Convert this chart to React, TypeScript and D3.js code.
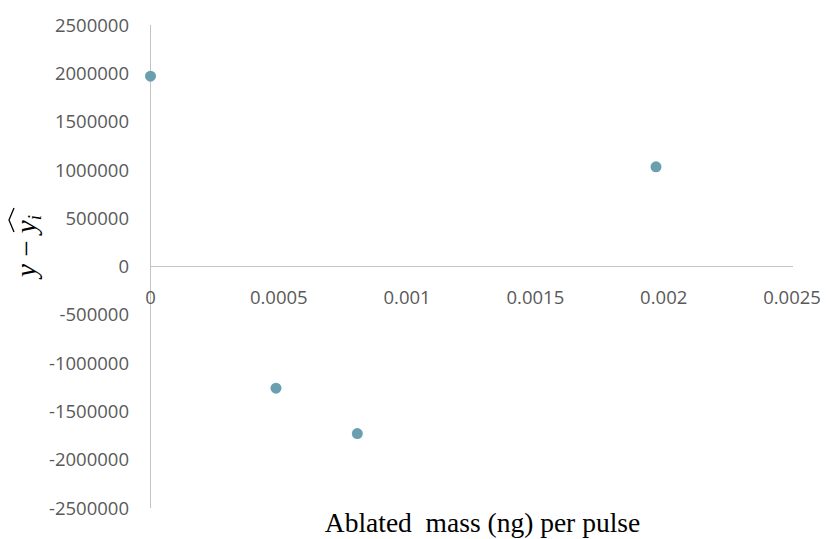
import React from "react";
import * as d3 from "d3";

const massValues = [0, 0.000489, 0.000806, 0.00197];
const residualValues = [1970000, -1260000, -1730000, 1032000];
const xTickValues = [0, 0.0005, 0.001, 0.0015, 0.002, 0.0025];
const yTickValues = [2500000, 2000000, 1500000, 1000000, 500000, 0, -500000, -1000000, -1500000, -2000000, -2500000];

const W = 828;
const H = 539;

export default function App() {
  const x = d3.scaleLinear().domain([0, 0.0025]).range([150.5, 792]);
  const y = d3.scaleLinear().domain([-2500000, 2500000]).range([508, 25]);
  const axisColor = "#c4c4c4";
  const textColor = "#595959";
  const tickFont = "'Open Sans', 'Liberation Sans', sans-serif";
  const points = massValues.map((m, i) => ({ m, r: residualValues[i] }));

  return (
    <svg width={W} height={H} style={{ position: "absolute", left: 0, top: 0, background: "#fff" }}>
      <line x1={x(0)} x2={x(0)} y1={y(2500000)} y2={y(-2500000)} stroke={axisColor} strokeWidth={1} />
      <line x1={x(0)} x2={x(0.0025) + 1} y1={y(0)} y2={y(0)} stroke={axisColor} strokeWidth={1} />

      {yTickValues.map((v) => (
        <text key={v} x={129} y={y(v)} dy="0.36em" textAnchor="end" fontFamily={tickFont} fontSize={18.5} fill={textColor}>
          {String(v)}
        </text>
      ))}

      {xTickValues.map((v) => (
        <text key={v} x={x(v)} y={303.5} textAnchor="middle" fontFamily={tickFont} fontSize={18.5} fill={textColor}>
          {String(v)}
        </text>
      ))}

      {points.map((p, i) => (
        <circle key={i} cx={x(p.m)} cy={y(p.r)} r={5.5} fill="#6a9fb0" />
      ))}

      <text x={482.5} y={532} textAnchor="middle" fontFamily="'Liberation Serif', serif" fontSize={27.5} fill="#000" style={{ whiteSpace: "pre" }}>
        {"Ablated  mass (ng) per pulse"}
      </text>

      <g transform="translate(36,246) rotate(-90)">
        <text x={0} y={0} textAnchor="middle" fontFamily="'Liberation Serif', serif" fontSize={29} fill="#000">
          <tspan fontStyle="italic">y</tspan>
          <tspan> − </tspan>
          <tspan fontStyle="italic">y</tspan>
          <tspan fontStyle="italic" fontSize={19} dy={5}>i</tspan>
        </text>
        <path d="M 14 -22 L 26 -27 L 38 -22" fill="none" stroke="#000" strokeWidth={1.3} />
      </g>
    </svg>
  );
}
